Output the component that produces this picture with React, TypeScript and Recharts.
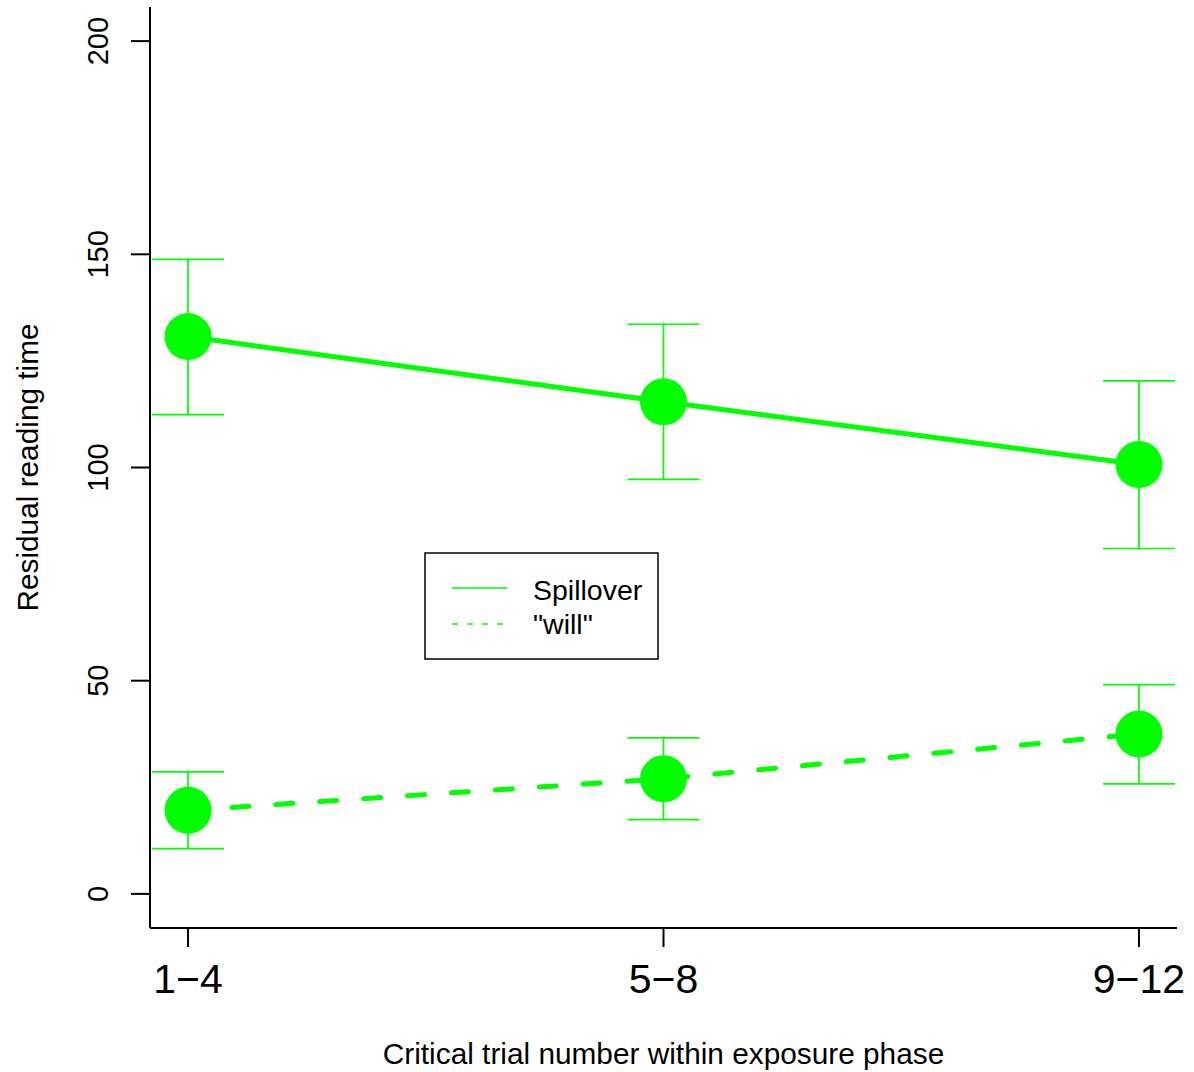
import { ComposedChart, Line, XAxis, YAxis, ErrorBar } from "recharts";

const PHASES = ["1−4", "5−8", "9−12"];
const SPILLOVER = [130.7, 115.4, 100.7];
const SPILLOVER_LOW = [112.4, 97.2, 81.0];
const SPILLOVER_HIGH = [148.8, 133.6, 120.3];
const WILL = [19.6, 27.0, 37.5];
const WILL_LOW = [10.6, 17.4, 25.8];
const WILL_HIGH = [28.6, 36.6, 49.1];
const Y_TICKS = [0, 50, 100, 150, 200];

const GREEN = "#00FF00";
const FONT = '"Liberation Sans", Arial, Helvetica, sans-serif';

const data = PHASES.map((phase, i) => ({
  x: i + 1,
  phase,
  spill: SPILLOVER[i],
  spillErr: [SPILLOVER[i] - SPILLOVER_LOW[i], SPILLOVER_HIGH[i] - SPILLOVER[i]],
  will: WILL[i],
  willErr: [WILL[i] - WILL_LOW[i], WILL_HIGH[i] - WILL[i]],
}));

const XTick = (props: any) => {
  const { x, y, payload } = props;
  return (
    <text x={x} y={y + 46} textAnchor="middle" fontSize={41} fontFamily={FONT} fill="#000">
      {PHASES[payload.value - 1]}
    </text>
  );
};

const YTick = (props: any) => {
  const { x, y, payload } = props;
  const tx = x - 23;
  return (
    <text
      x={tx}
      y={y}
      transform={`rotate(-90, ${tx}, ${y})`}
      textAnchor="middle"
      fontSize={29}
      fontFamily={FONT}
      fill="#000"
    >
      {payload.value}
    </text>
  );
};

const bigDot = (name: string) => (p: any) =>
  <circle key={`${name}-${p.index}`} cx={p.cx} cy={p.cy} r={23.5} fill={GREEN} />;

function LegendBox() {
  return (
    <svg
      width={236}
      height={110}
      style={{ position: "absolute", left: 424, top: 552 }}
    >
      <rect x={1} y={1} width={233} height={106} fill="#fff" stroke="#000" strokeWidth={1.5} />
      <line x1={28} y1={36} x2={83} y2={36} stroke={GREEN} strokeWidth={1.7} />
      <line x1={28} y1={72} x2={83} y2={72} stroke={GREEN} strokeWidth={1.7} strokeDasharray="6 9" />
      <text x={109} y={48} fontSize={28.5} fontFamily={FONT} fill="#000">Spillover</text>
      <text x={109} y={82} fontSize={28.5} fontFamily={FONT} fill="#000">"will"</text>
    </svg>
  );
}

export default function App() {
  return (
    <div style={{ position: "absolute", left: 0, top: 0, width: 1194, height: 1072, background: "#fff" }}>
      <ComposedChart
        width={1194}
        height={1072}
        data={data}
        margin={{ top: 7, right: 17, bottom: 0, left: 0 }}
      >
        <XAxis
          dataKey="x"
          type="number"
          domain={[0.92, 3.08]}
          ticks={[1, 2, 3]}
          height={144}
          tickSize={19}
          tickMargin={0}
          axisLine={{ stroke: "#000", strokeWidth: 2 }}
          tickLine={{ stroke: "#000", strokeWidth: 2 }}
          tick={XTick}
          label={{
            value: "Critical trial number within exposure phase",
            position: "insideBottom",
            offset: 8,
            fontSize: 29.8,
            fontFamily: FONT,
            fill: "#000",
          }}
        />
        <YAxis
          type="number"
          domain={[-8, 208]}
          ticks={Y_TICKS}
          width={150}
          tickSize={19}
          tickMargin={0}
          axisLine={{ stroke: "#000", strokeWidth: 2 }}
          tickLine={{ stroke: "#000", strokeWidth: 2 }}
          tick={YTick}
          label={{
            content: (p: any) => {
              const vb = p.viewBox;
              const cy = vb.y + vb.height / 2;
              return (
                <text
                  x={38}
                  y={cy}
                  transform={`rotate(-90, 38, ${cy})`}
                  textAnchor="middle"
                  fontSize={29.8}
                  fontFamily={FONT}
                  fill="#000"
                >
                  Residual reading time
                </text>
              );
            },
          }}
        />
        <Line
          dataKey="spill"
          stroke={GREEN}
          strokeWidth={5}
          dot={bigDot("s")}
          activeDot={false}
          isAnimationActive={false}
        >
          <ErrorBar dataKey="spillErr" direction="y" width={36} stroke={GREEN} strokeWidth={1.7} />
        </Line>
        <Line
          dataKey="will"
          stroke={GREEN}
          strokeWidth={5}
          strokeDasharray="17 27"
          strokeLinecap="round"
          dot={bigDot("w")}
          activeDot={false}
          isAnimationActive={false}
        >
          <ErrorBar dataKey="willErr" direction="y" width={36} stroke={GREEN} strokeWidth={1.7} />
        </Line>
      </ComposedChart>
      <LegendBox />
    </div>
  );
}
